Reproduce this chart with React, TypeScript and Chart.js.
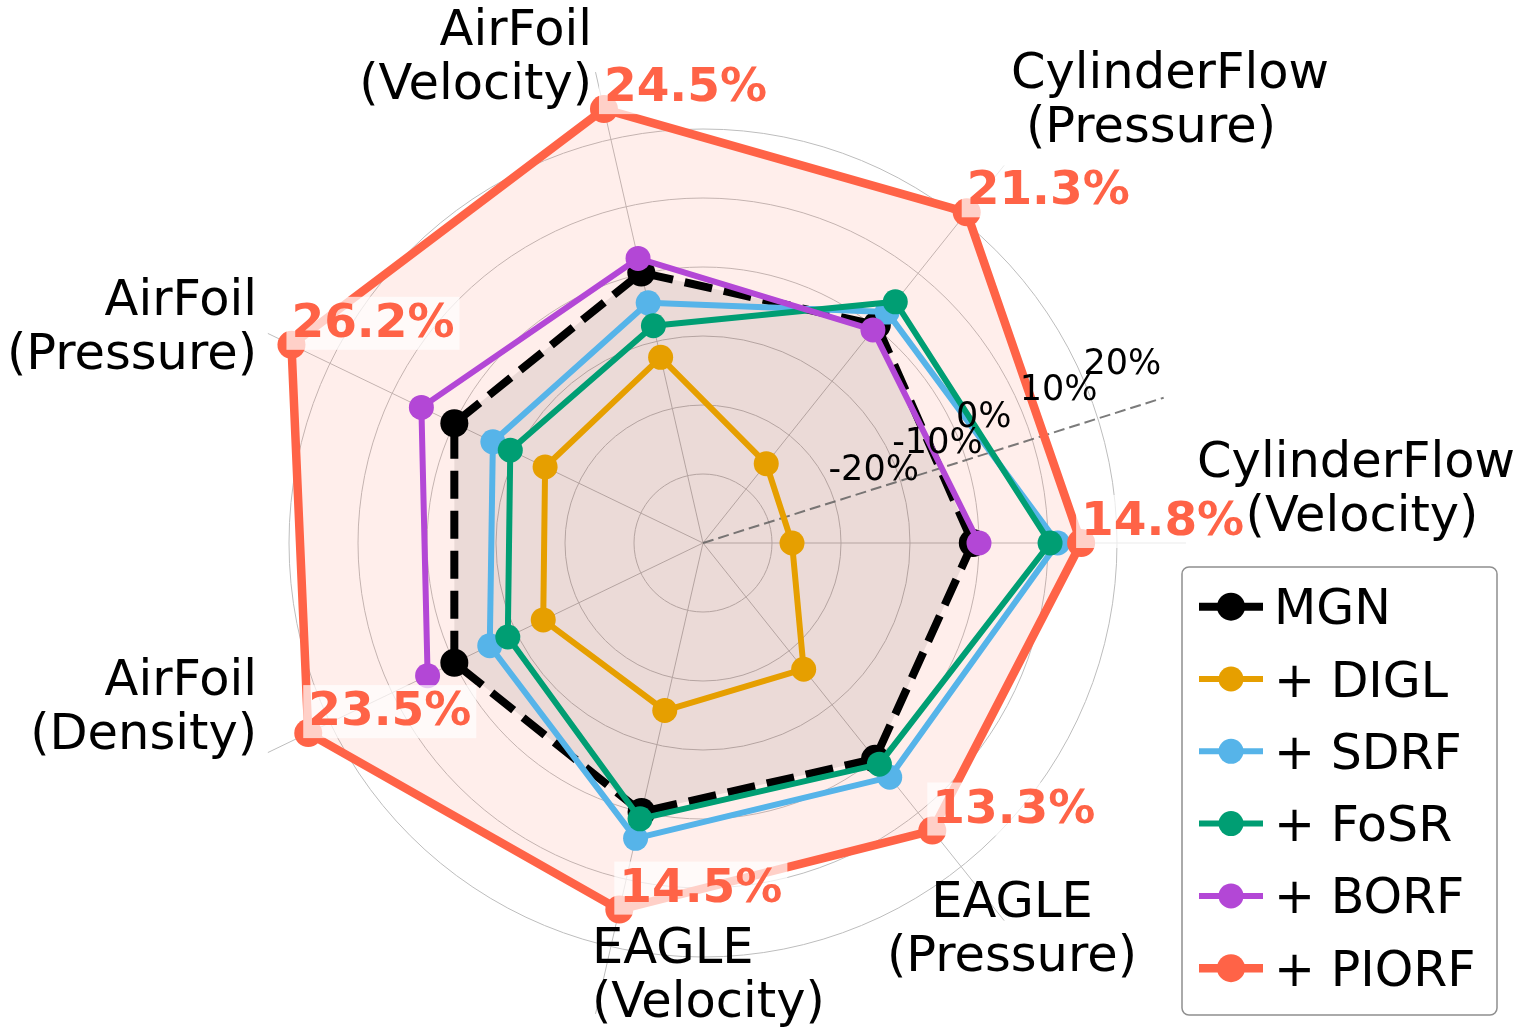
import React, { useEffect, useRef } from "react";
import { Chart, registerables } from "chart.js";

Chart.register(...registerables);

// ---------- data (natural, counter-clockwise order starting at the right) ----------
const categories = [
  "CylinderFlow\n(Velocity)",
  "CylinderFlow\n(Pressure)",
  "AirFoil\n(Velocity)",
  "AirFoil\n(Pressure)",
  "AirFoil\n(Density)",
  "EAGLE\n(Velocity)",
  "EAGLE\n(Pressure)",
];
const seriesNames = ["MGN", "+ DIGL", "+ SDRF", "+ FoSR", "+ BORF", "+ PIORF"];
const mgnValues = [-0.9, 0.4, 0.2, 0, 0, 0, 0];
const diglValues = [-27.1, -25.3, -12.4, -14.6, -14.3, -15.1, -16.6];
const sdrfValues = [11.4, 2.8, -4.3, -6.2, -5.7, 3.9, 3.4];
const fosrValues = [10.3, 4.7, -7.7, -9.0, -8.6, 1.0, 1.0];
const borfValues: (number | null)[] = [0.0, -0.5, 2.3, 5.3, 4.3, null, null];
const piorfValues = [14.8, 21.3, 24.5, 26.2, 23.5, 14.5, 13.3];
const radialTicks = [-20, -10, 0, 10, 20];
const R_MIN = -40;
const R_MAX = 30;

// Chart.js goes clockwise; the reference goes counter-clockwise
const CHART_ORDER = [0, 6, 5, 4, 3, 2, 1];
const toChartOrder = (a: any[]) => CHART_ORDER.map((i) => a[i]);

// ---------- styles ----------
const FONT = '"DejaVu Sans", "Liberation Sans", sans-serif';
const SERIES_STYLE = [
  { color: "#000000", fill: "rgba(0,0,0,0.09)", width: 8, dash: [28, 12], radius: 14 },
  { color: "#E69F00", fill: null, width: 6, dash: [], radius: 12.5 },
  { color: "#56B4E9", fill: null, width: 6, dash: [], radius: 12.5 },
  { color: "#009E73", fill: null, width: 6, dash: [], radius: 12.5 },
  { color: "#B347D6", fill: null, width: 6, dash: [], radius: 12.5 },
  { color: "#FF6347", fill: "rgba(255,99,71,0.11)", width: 8.5, dash: [], radius: 14 },
];
const seriesValues = [mgnValues, diglValues, sdrfValues, fosrValues, borfValues, piorfValues];

// axis label layout relative to chart center (first baseline)
const LABEL_LAYOUT = [
  { align: "center", dx: 653, dy: -66, indent: 6 },
  { align: "left", dx: 308, dy: -455, indent: 15 },
  { align: "right", dx: -111, dy: -498, indent: 0 },
  { align: "right", dx: -446, dy: -228, indent: 0 },
  { align: "right", dx: -446, dy: 152, indent: 0 },
  { align: "left", dx: -111, dy: 420, indent: 0 },
  { align: "center", dx: 309, dy: 374, indent: 0 },
];
const LABEL_LINE_HEIGHT = 54;
const LEGEND_BOX = { x: 1182, y: 567, w: 315, h: 448, row0: 606.7, rowGap: 72.3, lineX0: 1199, lineX1: 1263, textX: 1274 };

const overlayPlugin = {
  id: "overlay",
  beforeDatasetsDraw(chart: any) {
    const s = chart.scales.r;
    const ctx = chart.ctx;
    const R = s.getDistanceFromCenterForValue(R_MAX);
    const a = (17.5 * Math.PI) / 180;
    ctx.save();
    ctx.strokeStyle = "rgba(90,90,90,0.8)";
    ctx.lineWidth = 2;
    ctx.setLineDash([11, 5]);
    ctx.beginPath();
    ctx.moveTo(s.xCenter, s.yCenter);
    ctx.lineTo(s.xCenter + R * Math.cos(a), s.yCenter - R * Math.sin(a));
    ctx.stroke();
    ctx.restore();
  },
  afterDatasetsDraw(chart: any) {
    const s = chart.scales.r;
    const ctx = chart.ctx;
    ctx.save();
    // radial tick labels along 22.5 degrees
    const ta = (22.5 * Math.PI) / 180;
    ctx.font = `35px ${FONT}`;
    ctx.fillStyle = "#000";
    ctx.textAlign = "left";
    ctx.textBaseline = "alphabetic";
    radialTicks.forEach((v) => {
      const r = s.getDistanceFromCenterForValue(v);
      ctx.fillText(`${v}%`, s.xCenter + r * Math.cos(ta) - 2, s.yCenter - r * Math.sin(ta) - 10.5);
    });
    // PIORF value labels
    const meta = chart.getDatasetMeta(seriesNames.length - 1);
    ctx.font = `bold 47px ${FONT}`;
    meta.data.forEach((pt: any, j: number) => {
      const k = CHART_ORDER[j];
      const txt = `${piorfValues[k].toFixed(1)}%`;
      const w = ctx.measureText(txt).width;
      ctx.fillStyle = "rgba(255,255,255,0.7)";
      ctx.fillRect(pt.x - 5, pt.y - 48, w + 10, 53);
      ctx.fillStyle = "#FF6347";
      ctx.fillText(txt, pt.x, pt.y - 8);
    });
    ctx.restore();
  },
  afterDraw(chart: any) {
    const s = chart.scales.r;
    const ctx = chart.ctx;
    ctx.save();
    // axis labels
    ctx.font = `49.5px ${FONT}`;
    ctx.fillStyle = "#000";
    ctx.textBaseline = "alphabetic";
    categories.forEach((cat, k) => {
      const L = LABEL_LAYOUT[k];
      ctx.textAlign = L.align;
      cat.split("\n").forEach((line, li) => {
        ctx.fillText(line, s.xCenter + L.dx + (li > 0 ? L.indent : 0), s.yCenter + L.dy + li * LABEL_LINE_HEIGHT);
      });
    });
    // legend
    const B = LEGEND_BOX;
    ctx.beginPath();
    if (ctx.roundRect) ctx.roundRect(B.x, B.y, B.w, B.h, 7);
    else ctx.rect(B.x, B.y, B.w, B.h);
    ctx.fillStyle = "rgba(255,255,255,0.9)";
    ctx.fill();
    ctx.lineWidth = 1.5;
    ctx.strokeStyle = "#8f8f8f";
    ctx.stroke();
    chart.data.datasets.forEach((ds: any, i: number) => {
      const y = B.row0 + i * B.rowGap;
      ctx.save();
      ctx.strokeStyle = ds.borderColor;
      ctx.lineWidth = ds.borderWidth;
      ctx.setLineDash(ds.borderDash || []);
      ctx.lineCap = "butt";
      ctx.beginPath();
      ctx.moveTo(B.lineX0, y);
      ctx.lineTo(B.lineX1, y);
      ctx.stroke();
      ctx.setLineDash([]);
      ctx.fillStyle = ds.pointBackgroundColor;
      ctx.beginPath();
      ctx.arc((B.lineX0 + B.lineX1) / 2, y, ds.pointRadius, 0, Math.PI * 2);
      ctx.fill();
      ctx.restore();
      ctx.font = `49px ${FONT}`;
      ctx.fillStyle = "#000";
      ctx.textAlign = "left";
      ctx.fillText(ds.label, B.textX, y + 17.5);
    });
    ctx.restore();
  },
};

export default function App() {
  const canvasRef = useRef<HTMLCanvasElement | null>(null);

  useEffect(() => {
    if (!canvasRef.current) return;
    Chart.defaults.font.family = FONT;
    const datasets = seriesNames.map((name, i) => {
      const st = SERIES_STYLE[i];
      return {
        label: name,
        data: toChartOrder(seriesValues[i]),
        borderColor: st.color,
        backgroundColor: st.fill || "transparent",
        fill: st.fill ? "start" : false,
        borderWidth: st.width,
        borderDash: st.dash,
        borderCapStyle: "butt",
        borderJoinStyle: "round",
        pointRadius: st.radius,
        pointHoverRadius: st.radius,
        pointBackgroundColor: st.color,
        pointBorderColor: st.color,
        pointBorderWidth: 0,
        spanGaps: false,
        clip: false,
        order: seriesNames.length - 1 - i,
      };
    });
    const chart = new Chart(canvasRef.current, {
      type: "radar",
      data: { labels: toChartOrder(categories), datasets },
      options: {
        responsive: false,
        animation: false,
        layout: { padding: { left: 220, top: 60, right: 336, bottom: 7 } },
        plugins: {
          legend: { display: false },
          tooltip: { enabled: false },
          filler: { drawTime: "beforeDatasetsDraw" },
        },
        elements: { line: { tension: 0 } },
        scales: {
          r: {
            min: R_MIN,
            max: R_MAX,
            startAngle: 90,
            ticks: { display: false, stepSize: 10 },
            pointLabels: { display: false },
            grid: {
              circular: true,
              lineWidth: 1,
              color: (c: any) => (c.tick && c.tick.value >= R_MAX ? "rgba(0,0,0,0)" : "#bdbdbd"),
            },
            angleLines: { display: true, color: "#bdbdbd", lineWidth: 1 },
          },
        },
      } as any,
      plugins: [overlayPlugin as any],
    } as any);
    return () => chart.destroy();
  }, []);

  return (
    <div style={{ position: "absolute", left: 0, top: 0, width: 1522, height: 1033, background: "#fff" }}>
      <canvas ref={canvasRef} width={1522} height={1033} style={{ width: 1522, height: 1033, display: "block" }} />
    </div>
  );
}
